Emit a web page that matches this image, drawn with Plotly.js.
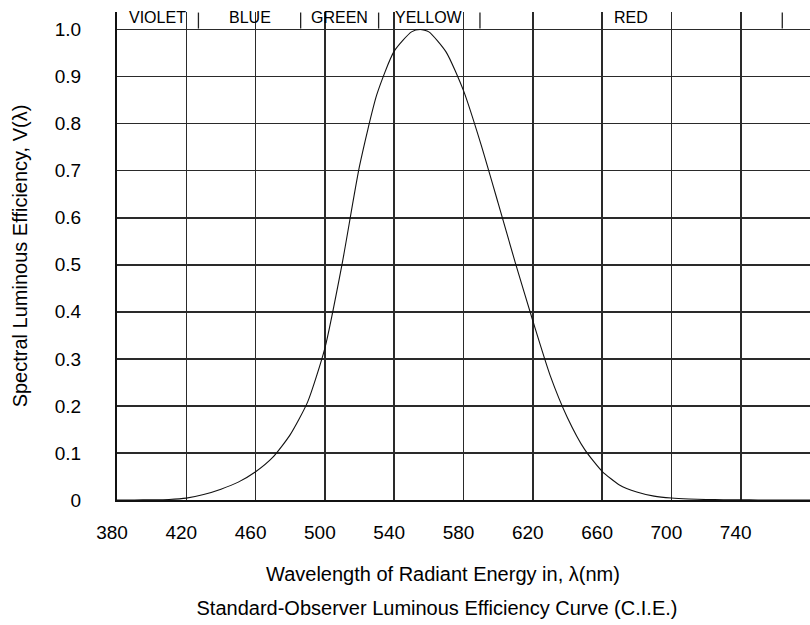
<!DOCTYPE html>
<html>
<head>
<meta charset="utf-8">
<script src="https://cdn.plot.ly/plotly-3.0.1.min.js"></script>
<style>
html,body{margin:0;padding:0;background:#fff;}
#chart{width:810px;height:625px;}
</style>
</head>
<body>
<div id="chart"></div>
<script>
// Wavelength (nm) and spectral luminous efficiency V(lambda)
var wavelength = [380,390,400,410,420,430,440,450,460,470,480,490,500,510,520,530,540,550,555,560,570,580,590,600,610,620,630,640,650,660,670,680,690,700,710,720,730,740,750,760,770,780];
var efficiency = [0.00004,0.00012,0.0004,0.0012,0.004,0.0116,0.023,0.038,0.060,0.091,0.139,0.208,0.323,0.503,0.710,0.862,0.954,0.995,1.000,0.995,0.952,0.870,0.757,0.631,0.503,0.381,0.265,0.175,0.107,0.061,0.032,0.017,0.0082,0.0041,0.0021,0.00105,0.00052,0.00025,0.00012,0.00006,0.00003,0.000015];

var xTickVals = [380,420,460,500,540,580,620,660,700,740];
var yTickVals = [0,0.1,0.2,0.3,0.4,0.5,0.6,0.7,0.8,0.9,1.0];
var yTickText = ['0','0.1','0.2','0.3','0.4','0.5','0.6','0.7','0.8','0.9','1.0'];

// Colour bands along the top
var bandNames = ['VIOLET','BLUE','GREEN','YELLOW','RED'];
var bandEdges = [380,427,486,531,589.5,764];

var FONT = 'Liberation Sans, Arial, sans-serif';

var shapes = [];
var annotations = [];
for (var i = 1; i < bandEdges.length; i++) {
  shapes.push({type:'line', xref:'x', yref:'y', x0:bandEdges[i], x1:bandEdges[i], y0:1.002, y1:1.036,
    line:{color:'#222', width:1.3}});
}
for (var j = 0; j < bandNames.length; j++) {
  annotations.push({xref:'x', yref:'y', x:(bandEdges[j]+bandEdges[j+1])/2, y:1.025,
    text:bandNames[j], showarrow:false, xanchor:'center', yanchor:'middle',
    font:{family:FONT, size:16, color:'#000'}});
}
annotations.push({xref:'paper', yref:'paper', x:0.47, y:-0.152, xanchor:'center', yanchor:'middle',
  text:'Wavelength of Radiant Energy in, \u03bb(nm)', showarrow:false,
  font:{family:FONT, size:20, color:'#000'}});

var trace = {
  x: wavelength, y: efficiency, type:'scatter', mode:'lines',
  line:{color:'#111', width:1.1, shape:'spline', smoothing:0.6},
  hoverinfo:'x+y'
};

var layout = {
  width:810, height:625,
  margin:{l:117, r:0, t:12, b:125},
  paper_bgcolor:'#fff', plot_bgcolor:'#fff',
  showlegend:false,
  font:{family:FONT, size:19, color:'#000'},
  title:{text:'Standard-Observer Luminous Efficiency Curve (C.I.E.)',
    xref:'container', yref:'container', x:0.5395, y:0.027, xanchor:'center', yanchor:'middle',
    font:{family:FONT, size:20, color:'#000'}},
  xaxis:{range:[380,780], tickvals:xTickVals, ticks:'', showgrid:true, gridcolor:'#2a2a2a', gridwidth:1.6,
    showline:true, linecolor:'#111', linewidth:2, zeroline:false, ticklabelstandoff:14, ticklabelshift:-5,
    tickfont:{family:FONT, size:19, color:'#000'}, fixedrange:true},
  yaxis:{range:[0,1.0372], tickvals:yTickVals, ticktext:yTickText, ticks:'', showgrid:true, gridcolor:'#2a2a2a', gridwidth:1.6,
    showline:true, linecolor:'#111', linewidth:2, zeroline:false, ticklabelstandoff:30,
    tickfont:{family:FONT, size:19, color:'#000'},
    title:{text:'Spectral Luminous Efficiency, V(\u03bb)', standoff:22, font:{family:FONT, size:20, color:'#000'}},
    fixedrange:true},
  shapes:shapes,
  annotations:annotations
};

Plotly.newPlot('chart', [trace], layout, {displayModeBar:false, staticPlot:true});
</script>
</body>
</html>
